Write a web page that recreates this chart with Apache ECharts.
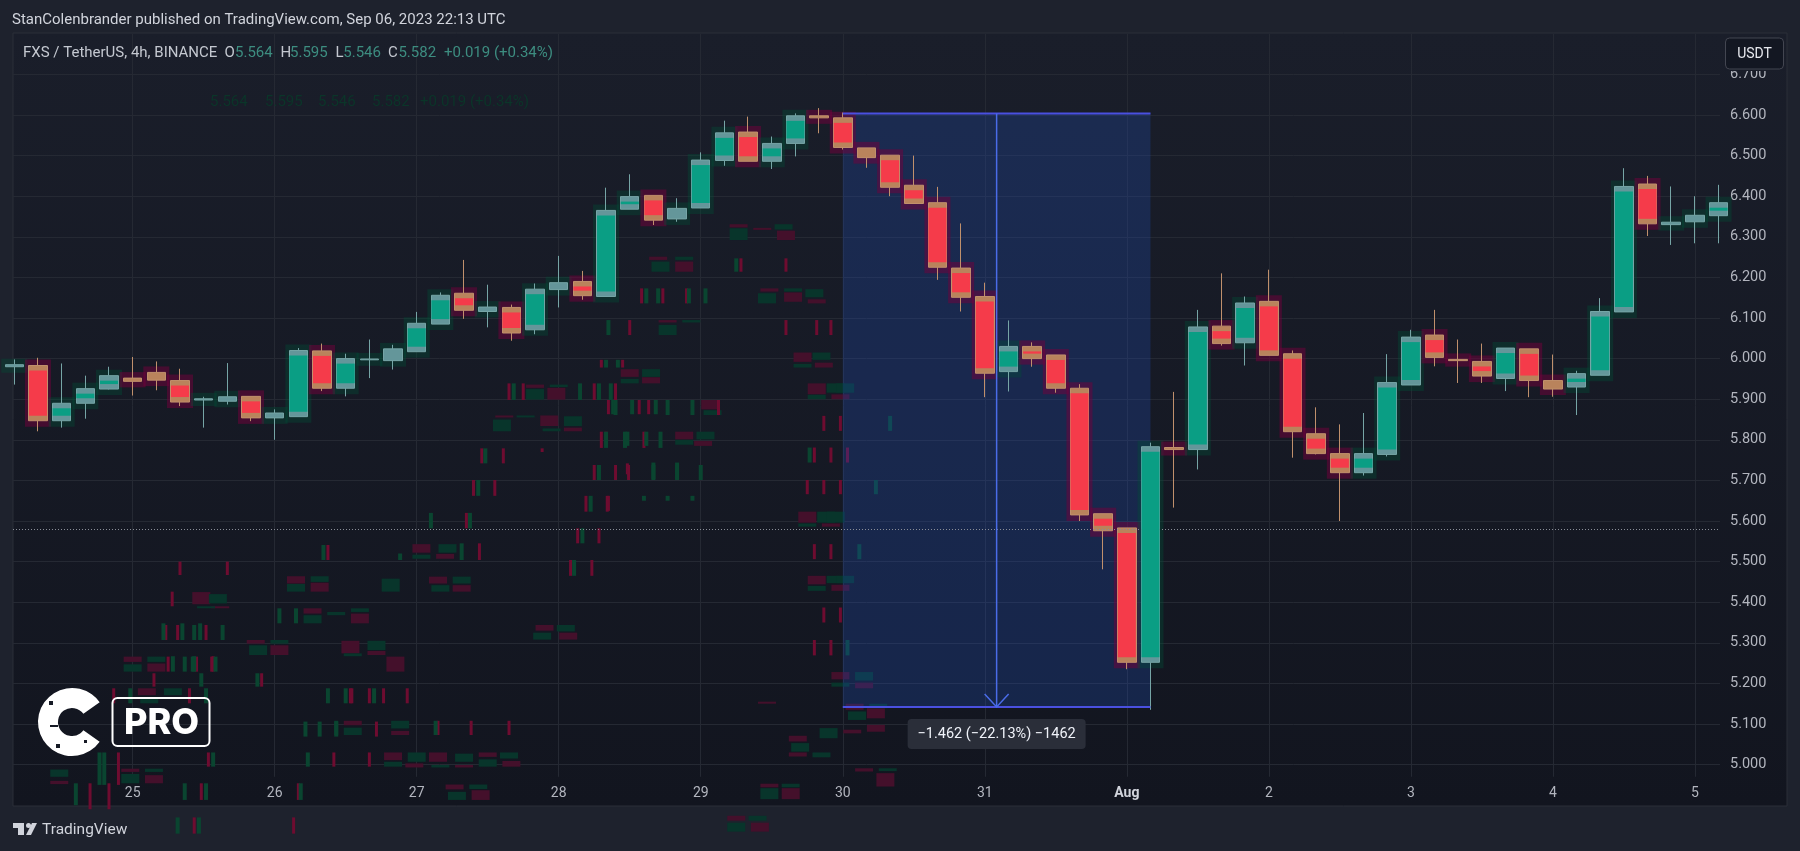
<!DOCTYPE html>
<html>
<head>
<meta charset="utf-8">
<title>FXS / TetherUS 4h</title>
<script src="https://cdn.jsdelivr.net/npm/echarts@6/dist/echarts.min.js"></script>
<style>
  html, body { margin: 0; padding: 0; background: #1e222d; }
  #chart { width: 1800px; height: 851px; }
</style>
</head>
<body>
<div id="chart"></div>
<script>
// one 4h bar per row: open, close, low, high
var opens = [5.980,5.983,5.847,5.890,5.925,5.952,5.966,5.946,5.898,5.895,5.907,5.854,5.857,6.019,5.927,5.997,5.995,6.017,6.085,6.161,6.116,6.126,6.071,6.170,6.190,6.153,6.368,6.402,6.344,6.371,6.488,6.558,6.486,6.530,6.598,6.593,6.519,6.501,6.427,6.384,6.223,6.153,5.968,6.030,6.009,5.927,5.618,5.583,5.252,5.781,5.776,6.080,6.039,6.141,6.012,5.815,5.766,5.719,5.764,5.935,6.058,5.998,5.993,5.951,6.024,5.946,5.930,5.959,6.115,6.430,6.330,6.337,6.352];
var closes = [5.985,5.847,5.890,5.926,5.958,5.944,5.947,5.893,5.901,5.906,5.854,5.866,6.020,5.927,6.000,5.999,6.024,6.087,6.156,6.119,6.127,6.063,6.171,6.187,6.155,6.365,6.399,6.341,6.370,6.489,6.556,6.486,6.530,6.598,6.593,6.520,6.495,6.422,6.382,6.225,6.151,5.964,6.030,6.000,5.927,5.615,5.576,5.252,5.783,5.776,6.078,6.037,6.137,6.008,5.820,5.766,5.719,5.766,5.941,6.053,6.003,5.995,5.957,6.026,5.946,5.925,5.963,6.116,6.424,6.332,6.336,6.353,6.384];
var lows = [5.936,5.821,5.830,5.852,5.924,5.909,5.922,5.883,5.830,5.887,5.846,5.800,5.857,5.920,5.907,5.952,5.973,6.017,6.085,6.098,6.077,6.044,6.060,6.126,6.145,6.153,6.368,6.329,6.337,6.371,6.475,6.486,6.467,6.498,6.555,6.515,6.470,6.400,6.382,6.194,6.116,5.905,5.919,5.980,5.916,5.600,5.481,5.235,5.135,5.633,5.727,6.032,5.983,6.008,5.756,5.764,5.600,5.712,5.759,5.935,5.981,5.940,5.940,5.920,5.905,5.906,5.861,5.959,6.115,6.302,6.280,6.284,6.284];
var highs = [5.998,6.002,5.988,5.958,5.980,6.004,5.993,5.975,5.906,5.989,5.907,5.875,6.026,6.037,6.012,6.047,6.034,6.115,6.163,6.243,6.182,6.133,6.185,6.253,6.216,6.421,6.454,6.402,6.395,6.508,6.586,6.596,6.547,6.604,6.617,6.606,6.519,6.501,6.500,6.423,6.333,6.187,6.094,6.040,6.009,5.937,5.618,5.583,5.793,5.918,6.120,6.210,6.153,6.219,6.020,5.880,5.838,5.866,6.011,6.071,6.120,6.047,6.037,6.026,6.024,6.010,5.970,6.149,6.469,6.450,6.424,6.400,6.428];

var dayBars = [5,11,17,23,29,35,41,47,53,59,65,71];
var dayLabels = ['25','26','27','28','29','30','31','Aug','2','3','4','5'];
var priceTicks = [5.0,5.1,5.2,5.3,5.4,5.5,5.6,5.7,5.8,5.9,6.0,6.1,6.2,6.3,6.4,6.5,6.6,6.7];
var lastClose = 5.582;

// price range tool: first bar, last bar, top price, bottom price
var rangeTool = [35, 48, 6.604, 5.142];
var rangeText = '\u22121.462 (\u221222.13%) \u22121462';

// faint leftover marks behind the chart: bar position, top price, bottom price
var ghostRedWide = [[11.9,5.464,5.446],[12.9,5.448,5.426],[17.9,5.463,5.446],[18.9,5.442,5.426],[12.6,5.385,5.372],[14.6,5.372,5.348],[10.2,5.307,5.298],[11.2,5.294,5.27],[14.2,5.305,5.274],[15.3,5.28,5.27],[5,5.266,5.253],[6,5.249,5.229],[5.6,5.188,5.171],[14.3,5.108,5.097],[16.3,5.083,5.073],[16,5.03,5.011],[16.9,5.003,4.993],[17.9,5.03,5.007],[19,4.999,4.993],[20,5.03,5.019],[21,5.009,4.995],[4.9,4.99,4.982],[5.9,4.974,4.954],[18.6,4.951,4.939],[19.7,4.937,4.913],[22.4,5.344,5.33],[23.4,5.325,5.308],[1.9,4.96,4.952],[8.7,5.39,5.386],[22,5.936,5.928],[22.9,5.928,5.899],[20.7,5.86,5.855],[22.6,5.86,5.834],[23.6,5.83,5.821],[17.2,5.543,5.522],[18.2,5.519,5.507],[30.6,6.331,6.323],[31.6,6.322,6.317],[32.6,6.315,6.292],[27.2,6.251,6.243],[28.3,6.239,6.214],[31.9,6.173,6.165],[32.9,6.163,6.14],[33.9,6.146,6.136],[27.6,6.095,6.089],[33.3,6.015,5.992],[34.2,5.99,5.978],[26,5.974,5.955],[26.9,5.954,5.939],[33.9,5.939,5.912],[34.9,5.912,5.9],[28.3,5.82,5.801],[29.1,5.797,5.785],[29.4,5.898,5.875],[33.5,5.623,5.596],[34.5,5.594,5.586],[33.9,5.465,5.444],[34.9,5.443,5.428],[34.9,5.228,5.21],[33.1,5.071,5.057],[33.1,5.03,5.02],[35.9,4.991,4.983],[36.8,4.979,4.946],[31.9,4.953,4.944],[32.8,4.942,4.915],[31.8,5.155,5.15],[35.9,5.202,5.188],[35.5,5.15,5.135],[36.4,5.139,5.114],[36.4,5.098,5.081],[35.4,5.086,5.077],[30.5,4.874,4.862],[31.5,4.857,4.835],[7.9,5.425,5.395],[16.1,5.266,5.229]];
var ghostGreenWide = [[12.9,5.464,5.45],[11.9,5.445,5.426],[18.9,5.463,5.446],[18,5.442,5.426],[15.9,5.458,5.426],[12.6,5.368,5.348],[13.6,5.376,5.368],[14.6,5.385,5.376],[11.2,5.307,5.298],[10.3,5.294,5.27],[15.3,5.305,5.282],[14.3,5.274,5.267],[6,5.266,5.253],[5,5.247,5.229],[6.7,5.188,5.171],[5.7,5.163,5.151],[14.3,5.091,5.073],[16.3,5.108,5.089],[17,5.03,5.007],[16,5.007,4.995],[18,4.999,4.993],[19,5.027,5.007],[20.9,5.03,5.015],[20,5.013,4.995],[5.9,4.99,4.982],[4.9,4.977,4.954],[19.6,4.951,4.94],[18.7,4.933,4.913],[23.3,5.344,5.328],[22.3,5.325,5.308],[1.9,4.988,4.97],[8.6,5.42,5.397],[22,5.925,5.899],[23,5.936,5.93],[20.6,5.85,5.821],[21.6,5.86,5.857],[23.6,5.858,5.834],[22.7,5.828,5.821],[18.3,5.543,5.522],[17.2,5.517,5.507],[30.6,6.321,6.292],[32.5,6.331,6.318],[27.3,6.239,6.214],[28.3,6.251,6.243],[31.8,6.161,6.136],[32.9,6.173,6.165],[33.8,6.171,6.151],[28.6,6.095,6.089],[27.6,6.083,6.058],[34.1,6.015,5.997],[33.3,5.987,5.978],[26.9,5.974,5.955],[26,5.95,5.939],[34.7,5.939,5.916],[35.1,5.939,5.916],[33.9,5.911,5.9],[29.2,5.82,5.801],[28.3,5.8,5.788],[29.5,5.873,5.861],[34.3,5.623,5.596],[34.7,5.623,5.596],[33.5,5.594,5.586],[34.7,5.465,5.447],[35.1,5.465,5.447],[33.9,5.44,5.428],[35.9,5.228,5.21],[33.2,5.053,5.032],[34.1,5.03,5.018],[36.9,4.991,4.984],[32.8,4.953,4.944],[31.9,4.942,4.915],[34.9,5.202,5.192],[35.9,5.227,5.207],[36.5,5.15,5.139],[35.6,5.131,5.11],[34.4,5.09,5.065],[31.4,4.874,4.862],[30.5,4.857,4.835],[8.1,5.39,5.386]];
var ghostRedThin = [[33.8,5.781,5.744],[34.5,5.781,5.744],[35.2,5.781,5.744],[34.2,5.859,5.822],[34.9,5.859,5.822],[33.5,5.701,5.666],[34.2,5.701,5.666],[34.9,5.701,5.666],[33.8,5.543,5.506],[34.5,5.543,5.506],[34.2,5.387,5.35],[34.9,5.387,5.35],[33.8,5.307,5.269],[34.5,5.307,5.269],[26.4,5.898,5.863],[26.8,5.898,5.863],[25.1,5.898,5.863],[25,5.82,5.785],[25.9,5.742,5.715],[25.1,5.662,5.625],[30.7,6.247,6.214],[32.6,6.247,6.214],[26.5,6.173,6.136],[27.4,6.173,6.136],[28.4,6.173,6.136],[26,6.095,6.058],[32.6,6.095,6.058],[33.9,6.095,6.058],[34.5,6.095,6.058],[6.4,5.344,5.307],[6.9,5.344,5.307],[8.1,5.344,5.307],[8.4,5.267,5.229],[7.9,4.954,4.913],[12,4.954,4.913],[8.2,5.03,4.995],[13.5,5.03,4.995],[15,5.03,4.995],[14.2,5.188,5.151],[15,5.188,5.151],[17.9,5.108,5.073],[19.3,5.108,5.073],[20.9,5.108,5.073],[3.2,4.954,4.89],[4,4.954,4.89],[4.4,5.03,4.95],[7.6,4.87,4.83],[11.8,4.87,4.83],[29.75,5.898,5.861],[24.8,5.82,5.78],[26.6,5.82,5.78],[19.75,5.779,5.742],[20.66,5.779,5.742],[22.3,5.779,5.77],[24.5,5.738,5.701],[25.4,5.738,5.701],[25.95,5.738,5.701],[19.4,5.701,5.662],[20.3,5.701,5.662],[24.15,5.662,5.623],[25.05,5.662,5.623],[19.1,5.62,5.582],[23.8,5.582,5.545],[24.7,5.582,5.545],[19.65,5.545,5.504],[23.5,5.504,5.465],[24.4,5.504,5.465],[24.8,5.997,5.978],[25.7,5.997,5.978],[20.9,5.939,5.898],[21.5,5.939,5.898],[24.5,5.939,5.898],[25.4,5.939,5.898],[7,5.5,5.467],[9,5.5,5.467],[13.25,5.541,5.504],[6.67,5.426,5.39],[6.5,5.266,5.229],[7.7,5.266,5.229],[8.34,5.266,5.229],[5.9,5.225,5.192],[10.45,5.225,5.192],[14.26,5.188,5.151],[15.6,5.188,5.151],[16.6,5.188,5.151],[7.4,5.188,5.151],[4.2,5.188,5.151],[15.3,5.106,5.069]];
var ghostGreenThin = [[33.6,5.781,5.744],[37,5.859,5.822],[36.4,5.701,5.666],[35.7,5.543,5.506],[35.2,5.307,5.269],[26.1,5.898,5.863],[27.1,5.898,5.863],[25.3,5.898,5.863],[25.9,5.82,5.785],[26.7,5.82,5.785],[28,5.744,5.703],[27,5.744,5.703],[30.5,6.247,6.214],[26.7,6.173,6.136],[27.2,6.173,6.136],[28.5,6.173,6.136],[29.2,6.173,6.136],[25.1,6.095,6.058],[7.6,5.344,5.307],[8.8,5.344,5.307],[7.6,5.267,5.229],[6.7,5.267,5.229],[7.2,4.954,4.913],[8.1,4.954,4.913],[12.1,4.954,4.913],[8.4,5.03,4.995],[12.4,5.03,4.995],[14,5.188,5.151],[15.2,5.188,5.151],[17.8,5.108,5.073],[13.6,5.108,5.073],[2.6,4.954,4.9],[3.6,5.03,4.95],[3.8,5.03,4.95],[6.9,4.87,4.83],[7.8,4.87,4.83],[25.4,5.898,5.861],[27.6,5.898,5.861],[28.65,5.898,5.861],[25,5.82,5.78],[25.8,5.82,5.78],[27.3,5.82,5.78],[19.9,5.779,5.742],[24.7,5.738,5.701],[27,5.738,5.701],[28,5.738,5.701],[29,5.738,5.701],[19.6,5.701,5.662],[24.35,5.662,5.623],[26.6,5.662,5.65],[27.6,5.662,5.65],[28.65,5.662,5.65],[19.25,5.62,5.582],[17.6,5.62,5.582],[24,5.582,5.545],[18.9,5.545,5.504],[16.3,5.52,5.504],[23.65,5.504,5.465],[25,5.997,5.978],[25.5,5.997,5.978],[21.1,5.939,5.898],[23.9,5.939,5.898],[24.7,5.939,5.898],[25.2,5.939,5.898],[13.06,5.541,5.504],[11.2,5.385,5.348],[11.9,5.385,5.348],[6.3,5.348,5.307],[7.1,5.348,5.307],[7.85,5.348,5.307],[7.2,5.266,5.229],[7.54,5.266,5.229],[8.5,5.266,5.229],[7.9,5.225,5.192],[10.27,5.225,5.192],[13.25,5.188,5.151],[8.1,5.188,5.151],[4.9,5.188,5.151],[12.3,5.106,5.069],[12.9,5.106,5.069],[13.6,5.106,5.069]];

var symbolText = 'FXS / TetherUS, 4h, BINANCE';
var ohlcNames = ['O', 'H', 'L', 'C'];
var ohlcValues = ['5.564', '5.595', '5.546', '5.582'];
var changeText = '+0.019 (+0.34%)';
var publishedText = 'StanColenbrander published on TradingView.com, Sep 06, 2023 22:13 UTC';

var uiFont = 'Roboto, sans-serif';
var candles = opens.map(function (o, i) { return [i, o, closes[i], lows[i], highs[i]]; });
var chart = echarts.init(document.getElementById('chart'));

function rect(x, y, w, h, fill) {
  return { type: 'rect', shape: { x: x, y: y, width: w, height: h }, style: { fill: fill } };
}

function ghostSeries(data, color, w) {
  return {
    type: 'custom', z: 1, silent: true, clip: false, data: data,
    encode: { x: 0, y: [1, 2] },
    renderItem: function (params, api) {
      var top = api.coord([api.value(0), api.value(1)]);
      var bot = api.coord([api.value(0), api.value(2)]);
      return rect(top[0] - w / 2, top[1], w, Math.max(bot[1] - top[1], 2), color);
    }
  };
}

// dark glow behind each candle
function renderHalo(params, api) {
  var o = api.value(1), c = api.value(2);
  var top = api.coord([api.value(0), Math.max(o, c)]);
  var bot = api.coord([api.value(0), Math.min(o, c)]);
  var color = c >= o ? 'rgba(0,80,55,0.36)' : 'rgba(115,0,60,0.5)';
  return rect(top[0] - 13, top[1] - 6, 26, bot[1] - top[1] + 12, color);
}

// bright middle of the body, the ends stay muted
function renderCore(params, api) {
  var o = api.value(1), c = api.value(2);
  var top = api.coord([api.value(0), Math.max(o, c)]);
  var bot = api.coord([api.value(0), Math.min(o, c)]);
  var h = bot[1] - top[1] - 10;
  if (h <= 2) return null;
  return rect(top[0] - 9, top[1] + 5, 18, h, c >= o ? '#0a9e84' : '#f53b4a');
}

function renderRangeFill(params, api) {
  var a = api.coord([api.value(0), api.value(2)]);
  var b = api.coord([api.value(1), api.value(3)]);
  return rect(a[0], a[1], b[0] - a[0], b[1] - a[1], 'rgba(33,80,190,0.27)');
}

function renderRangeLines(params, api) {
  var a = api.coord([api.value(0), api.value(2)]);
  var b = api.coord([api.value(1), api.value(3)]);
  var mx = (a[0] + b[0]) / 2;
  var lineBlue = { stroke: '#4a50e0', lineWidth: 2 };
  var shaftBlue = { stroke: '#4a6ce8', lineWidth: 1.5, fill: 'none' };
  return {
    type: 'group',
    children: [
      { type: 'line', shape: { x1: a[0], y1: a[1], x2: b[0], y2: a[1] }, style: lineBlue },
      { type: 'line', shape: { x1: a[0], y1: b[1], x2: b[0], y2: b[1] }, style: lineBlue },
      { type: 'line', shape: { x1: mx, y1: a[1], x2: mx, y2: b[1] }, style: shaftBlue },
      { type: 'polyline', shape: { points: [[mx - 12, b[1] - 13], [mx, b[1]], [mx + 12, b[1] - 13]] }, style: shaftBlue },
      { type: 'rect', shape: { x: mx - 89, y: b[1] + 12, width: 178, height: 30, r: 4 }, style: { fill: '#2a2e39' } },
      { type: 'text', x: mx, y: b[1] + 27, style: { text: rangeText, fill: '#f0f3fa', font: '14.5px ' + uiFont, align: 'center', verticalAlign: 'middle' } }
    ]
  };
}

function uiText(x, y, text, fill, font, extra) {
  return {
    type: 'text', x: x, y: y, z: 100, silent: true,
    style: Object.assign({ text: text, fill: fill, font: font || ('15px ' + uiFont), verticalAlign: 'middle' }, extra || {})
  };
}

function uiRect(x, y, w, h, fill) {
  return { type: 'rect', z: 100, silent: true, shape: { x: x, y: y, width: w, height: h }, style: { fill: fill } };
}

// header, legend, logos
var labelXs = [224.6, 280.5, 335.6, 388];
var valueXs = [235, 290, 343.3, 398.4];
var legendBits = [uiText(23, 53, symbolText, '#c4c8d0')];
ohlcNames.forEach(function (n, i) {
  legendBits.push(uiText(labelXs[i], 53, n, '#c4c8d0'));
  legendBits.push(uiText(valueXs[i], 53, ohlcValues[i], '#3d8d80'));
});
legendBits.push(uiText(444, 53, changeText, '#3d8d80'));

// faint copy of the legend values further down
var echoXs = [210, 265, 318, 372];
var echoBits = ohlcValues.map(function (v, i) {
  return uiText(echoXs[i], 102, v, '#0b3529');
});
echoBits.push(uiText(420, 102, changeText, '#0b3529'));

var watermark = [
  { type: 'sector', z: 100, silent: true, shape: { cx: 72, cy: 722, r: 34, r0: 14, startAngle: 0.62, endAngle: Math.PI * 2 - 0.62 }, style: { fill: '#ffffff' } },
  uiRect(50, 725, 8, 2, '#161a25'), uiRect(49, 701, 4, 4, '#161a25'), uiRect(56, 744, 4, 4, '#161a25'), uiRect(84, 740, 3, 3, '#161a25'),
  { type: 'rect', z: 100, silent: true, shape: { x: 112.5, y: 698, width: 97, height: 48, r: 5 }, style: { fill: 'none', stroke: '#ffffff', lineWidth: 2 } },
  uiText(161.5, 723, 'PRO', '#ffffff', '800 36px Inter, sans-serif', { align: 'center' })
];

var tvLogo = [
  uiRect(13, 823, 11, 5, '#d1d4dc'), uiRect(18, 823, 6, 12, '#d1d4dc'),
  { type: 'circle', z: 100, silent: true, shape: { cx: 28.5, cy: 825.5, r: 2.5 }, style: { fill: '#d1d4dc' } },
  { type: 'polygon', z: 100, silent: true, shape: { points: [[32, 823], [37, 823], [31, 835], [26, 835]] }, style: { fill: '#d1d4dc' } },
  uiText(42, 830, 'TradingView', '#d1d4dc', '15.5px ' + uiFont)
];

var chartOption = {
  animation: false,
  backgroundColor: '#1e222d',
  grid: { left: 13, right: 80, top: 33.8, bottom: 74.2 },
  xAxis: {
    type: 'value', min: -0.055, max: 72.06,
    axisLine: { show: false },
    axisTick: { show: false, customValues: dayBars },
    axisLabel: {
      customValues: dayBars, margin: 9.5, color: '#b2b5be', fontFamily: uiFont, fontSize: 14,
      formatter: function (v) {
        var s = dayLabels[dayBars.indexOf(v)];
        return s === 'Aug' ? '{b|Aug}' : s;
      },
      rich: { b: { color: '#d1d4dc', fontWeight: 'bold', fontFamily: uiFont, fontSize: 14 } }
    },
    splitLine: { show: true, lineStyle: { color: '#252933', width: 1 } }
  },
  yAxis: {
    type: 'value', position: 'right', min: 4.97, max: 6.8, scale: true,
    axisLine: { show: false },
    axisTick: { show: false, customValues: priceTicks },
    axisLabel: {
      customValues: priceTicks, margin: 10, color: '#b2b5be', fontFamily: uiFont, fontSize: 14.5, padding: [3, 0, 0, 0],
      formatter: function (v) { return v.toFixed(3); }
    },
    splitLine: { show: true, lineStyle: { color: '#252933', width: 1 } }
  },
  series: [
    ghostSeries(ghostRedWide, '#44102b', 18),
    ghostSeries(ghostGreenWide, '#08352b', 18),
    ghostSeries(ghostRedThin, '#6e0c30', 3),
    ghostSeries(ghostGreenThin, '#0a4530', 4),
    { type: 'custom', z: 2, silent: true, clip: false, data: [rangeTool], encode: { x: [0, 1], y: [2, 3] }, renderItem: renderRangeFill },
    {
      type: 'custom', z: 3, silent: true, data: candles, encode: { x: 0, y: [1, 2, 3, 4] }, renderItem: renderHalo,
      markLine: {
        silent: true, symbol: ['none', 'none'], label: { show: false },
        lineStyle: { color: '#8a8e98', type: [1, 2], width: 1 },
        data: [{ yAxis: lastClose }]
      }
    },
    {
      type: 'candlestick', z: 4, name: 'FXS / TetherUS', barWidth: 19, data: candles,
      encode: { x: 0, y: [1, 2, 3, 4] },
      itemStyle: { color: '#64969a', color0: '#b9835c', borderColor: '#76a5a6', borderColor0: '#c0906c', borderWidth: 1 }
    },
    { type: 'custom', z: 5, silent: true, data: candles, encode: { x: 0, y: [1, 2, 3, 4] }, renderItem: renderCore },
    { type: 'custom', z: 6, silent: true, clip: false, data: [rangeTool], encode: { x: [0, 1], y: [2, 3] }, renderItem: renderRangeLines }
  ],
  graphic: {
    elements: [
      {
        type: 'rect', z: -10, silent: true,
        shape: { x: 13, y: 33, width: 1774, height: 773 },
        style: {
          fill: new echarts.graphic.LinearGradient(0, 0, 0, 1, [{ offset: 0, color: '#1a1e2a' }, { offset: 1, color: '#12151f' }]),
          stroke: '#2a2e39', lineWidth: 1
        }
      },
      uiText(12, 20, publishedText, '#d1d4dc'),
      uiRect(1725, 60, 59, 11, '#191d29'),
      { type: 'rect', z: 100, silent: true, shape: { x: 1725.5, y: 38, width: 58, height: 31, r: 4 }, style: { fill: '#131722', stroke: '#434651', lineWidth: 1 } },
      uiText(1754.5, 54, 'USDT', '#e6e8ee', '14px ' + uiFont, { align: 'center' })
    ].concat(legendBits, echoBits, watermark, tvLogo)
  }
};

chart.setOption(chartOption);
</script>
</body>
</html>
